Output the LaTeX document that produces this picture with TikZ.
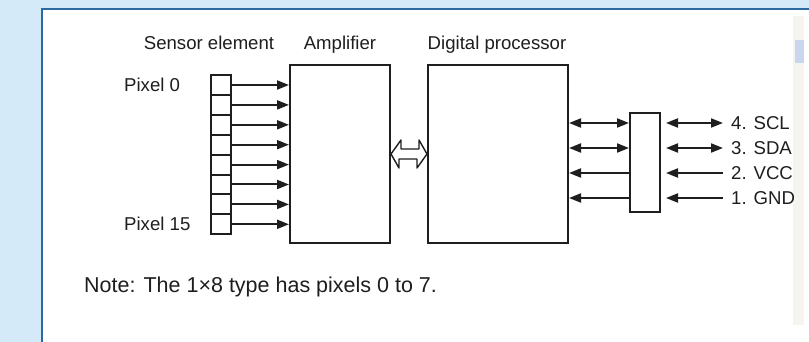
\documentclass[tikz,border=0pt]{standalone}
\usepackage{fontspec}
\setmainfont{Liberation Sans}
\usetikzlibrary{arrows.meta}
\definecolor{pagebg}{HTML}{D5EAF8}
\definecolor{panelrule}{HTML}{2A6A9E}
\definecolor{ink}{HTML}{1E1E1E}
\definecolor{scrollbg}{HTML}{F6F4EF}
\definecolor{scrollthumb}{HTML}{C9D6EF}
\tikzset{
  block/.style={draw=ink,line width=2pt,inner sep=0pt},
  cell/.style={block,minimum width=20pt,minimum height=19.9pt},
  signal/.style={draw=ink,line width=2pt,-{Triangle[length=12pt,width=9pt]}},
  bus/.style={signal,{Triangle[length=12pt,width=9pt]}-{Triangle[length=12pt,width=9pt]}},
  supply/.style={signal,{Triangle[length=12pt,width=9pt]}-},
  caption/.style={font=\fontsize{18.6}{22}\selectfont,text=ink,inner sep=0pt},
  pinlabel/.style={caption,anchor=west,inner xsep=8pt},
  hollow/.style={draw=ink,line width=1.4pt,fill=white,line join=round}
}

\begin{document}
\begin{tikzpicture}[x=1pt,y=-1pt]
  \useasboundingbox (0,0) rectangle (809,342);
  \fill[pagebg] (0,0) rectangle (809,342);
  \fill[white] (42,9) rectangle (812,345);
  \draw[panelrule,line width=1.8pt] (42,345) -- (42,9) -- (812,9);
  \fill[scrollbg] (793,16) rectangle (804,325);
  \fill[scrollthumb] (795,40) rectangle (804,63);
  \node[block,minimum width=100pt,minimum height=178pt] (amp) at (340,154) {};
  \node[block,minimum width=140pt,minimum height=178pt] (proc) at (498,154) {};
  \node[block,minimum width=30pt,minimum height=99pt] (conn) at (645,162.5) {};
  \foreach \i in {0,...,7}
    \node[cell] (cell\i) at (221,{85+19.9*\i}) {};
  \foreach \i in {0,...,7}
    \draw[signal] (cell\i.east) -- (cell\i.east -| amp.west);
  \draw[hollow] (amp.east) -- ++(10,-14) -- ++(0,9) -- ++(18,0) -- ++(0,-9)
    -- (proc.west) -- ++(-10,14) -- ++(0,-9) -- ++(-18,0) -- ++(0,9) -- cycle;
  \node[pinlabel] (scl) at (723,123) {4. SCL};
  \node[pinlabel] (sda) at (723,148) {3. SDA};
  \node[pinlabel] (vcc) at (723,173) {2. VCC};
  \node[pinlabel] (gnd) at (723,198) {1. GND};
  \foreach \p in {scl,sda} {
    \draw[bus] (proc.east |- \p) -- (conn.west |- \p);
    \draw[bus,shorten <=5pt] (conn.east |- \p) -- (\p.west);
  }
  \foreach \p in {vcc,gnd} {
    \draw[supply] (proc.east |- \p) -- (conn.west |- \p);
    \draw[supply,shorten <=5pt] (conn.east |- \p) -- (\p.west);
  }
  \node[caption,anchor=base] (lblsensor) at (209,50) {Sensor element};
  \node[caption,anchor=base] (lblamp) at (340,50) {Amplifier};
  \node[caption,anchor=base] (lblproc) at (497,50) {Digital processor};
  \node[caption,anchor=base west] (lblpix0) at (124,92) {Pixel 0};
  \node[caption,anchor=base west] (lblpix15) at (124,230) {Pixel 15};
  \node[caption,anchor=base west,font=\fontsize{21.5}{26}\selectfont] (note)
    at (84,292) {Note: The 1×8 type has pixels 0 to 7.};
\end{tikzpicture}
\end{document}
